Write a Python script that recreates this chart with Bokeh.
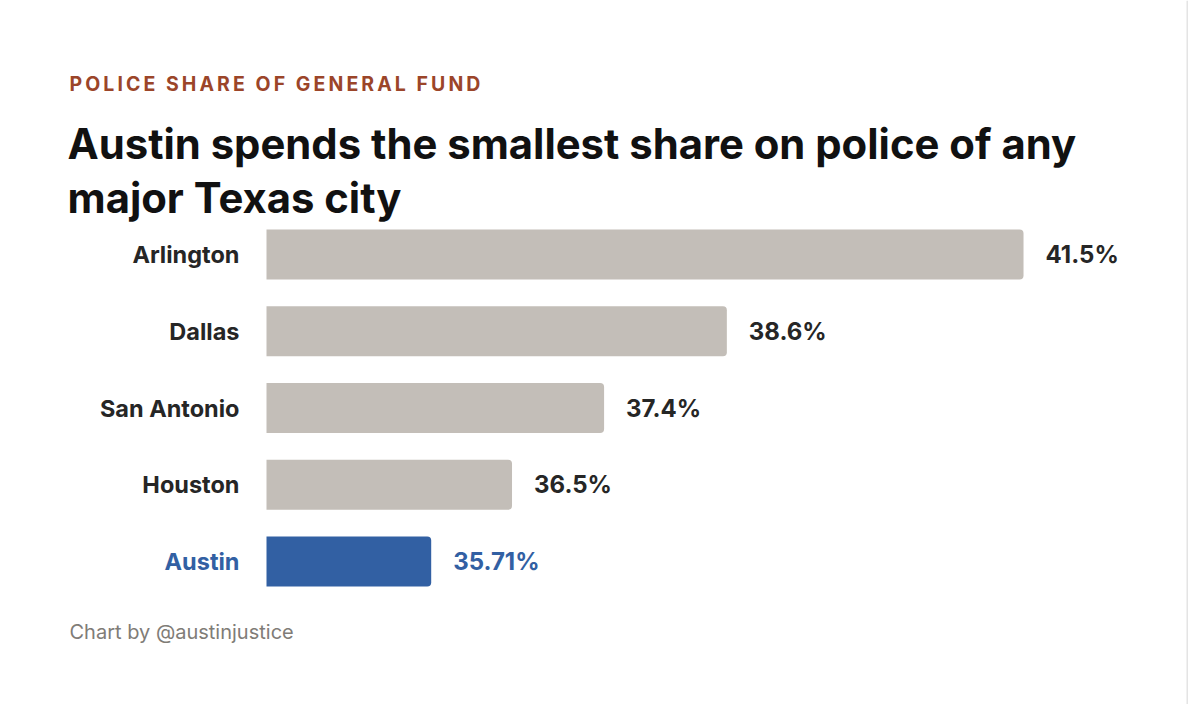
from bokeh.plotting import figure
from bokeh.models import Label, Range1d, ColumnDataSource, BoxAnnotation
from bokeh.embed import file_html
from bokeh.resources import INLINE
from bokeh.core.properties import value

# Police share of each city's general fund (%)
cities = ["Arlington", "Dallas", "San Antonio", "Houston", "Austin"]
shares = [41.5, 38.6, 37.4, 36.5, 35.71]
share_labels = ["41.5%", "38.6%", "37.4%", "36.5%", "35.71%"]
highlight = "Austin"

W, H = 1188, 704
BASE = 34.1          # value at which bars start
PX_PER_UNIT = 102.3  # horizontal scale
LEFT_PX = 266        # pixel where bars start
ROW_TOP = 254        # pixel centre of first row
ROW_STEP = 76.75     # pixel distance between rows

GREY = "#c3beb8"
BLUE = "#3260a3"
DARK = "#262626"


def spaced(s, gap="\u2009"):
    """Letter-spaced caps for the kicker line."""
    return gap.join(s)


rows = list(range(len(cities)))
bar_colors = [BLUE if c == highlight else GREY for c in cities]
text_colors = [BLUE if c == highlight else DARK for c in cities]

src = ColumnDataSource(dict(row=rows, city=cities, share=shares,
                            label=share_labels, bar_color=bar_colors,
                            text_color=text_colors))

p = figure(width=W, height=H, output_backend="svg", toolbar_location=None,
           x_range=Range1d(BASE - LEFT_PX / PX_PER_UNIT, BASE + (W - LEFT_PX) / PX_PER_UNIT),
           y_range=Range1d((H - ROW_TOP) / ROW_STEP, -ROW_TOP / ROW_STEP),
           x_axis_type=None, y_axis_type=None, min_border=0,
           background_fill_color="white", border_fill_color="white")
p.grid.visible = False
p.outline_line_color = None

p.hbar(y="row", left=BASE, right="share", height=50 / ROW_STEP, source=src,
       fill_color="bar_color", line_color=None, border_radius=(0, 4, 4, 0))

# city names to the left of the bars
p.text(x=BASE, y="row", text="city", source=src, x_offset=-27,
       text_align="right", text_baseline="middle",
       text_font=value("Inter"), text_font_style="bold",
       text_font_size="23.5px", text_color="text_color")

# value labels after each bar
p.text(x="share", y="row", text="label", source=src, x_offset=22,
       text_align="left", text_baseline="middle",
       text_font=value("Inter"), text_font_style="bold",
       text_font_size="24px", text_color="text_color")

p.add_layout(Label(x=69, y=H - 83, x_units="screen", y_units="screen",
                   text=spaced("POLICE SHARE OF GENERAL FUND"), text_font="Inter",
                   text_font_size="19.5px", text_font_style="bold",
                   text_color="#9b4529", text_baseline="alphabetic"))
p.add_layout(Label(x=67, y=H - 143, x_units="screen", y_units="screen",
                   text="Austin spends the smallest share on police of any",
                   text_font="Inter", text_font_size="41.8px", text_font_style="bold",
                   text_color="#111111", text_baseline="alphabetic"))
p.add_layout(Label(x=67, y=H - 197, x_units="screen", y_units="screen",
                   text="major Texas city",
                   text_font="Inter", text_font_size="41.8px", text_font_style="bold",
                   text_color="#111111", text_baseline="alphabetic"))
p.add_layout(Label(x=69, y=H - 631, x_units="screen", y_units="screen",
                   text="Chart by @austinjustice", text_font="Inter",
                   text_font_size="20px", text_color="#807c77",
                   text_baseline="middle"))

# thin divider on the right edge
p.add_layout(BoxAnnotation(left=1186, right=1188, left_units="screen", right_units="screen",
                           fill_color="#e4e4e4", fill_alpha=1, line_alpha=0))

open("out.html", "w").write(file_html(p, INLINE))
